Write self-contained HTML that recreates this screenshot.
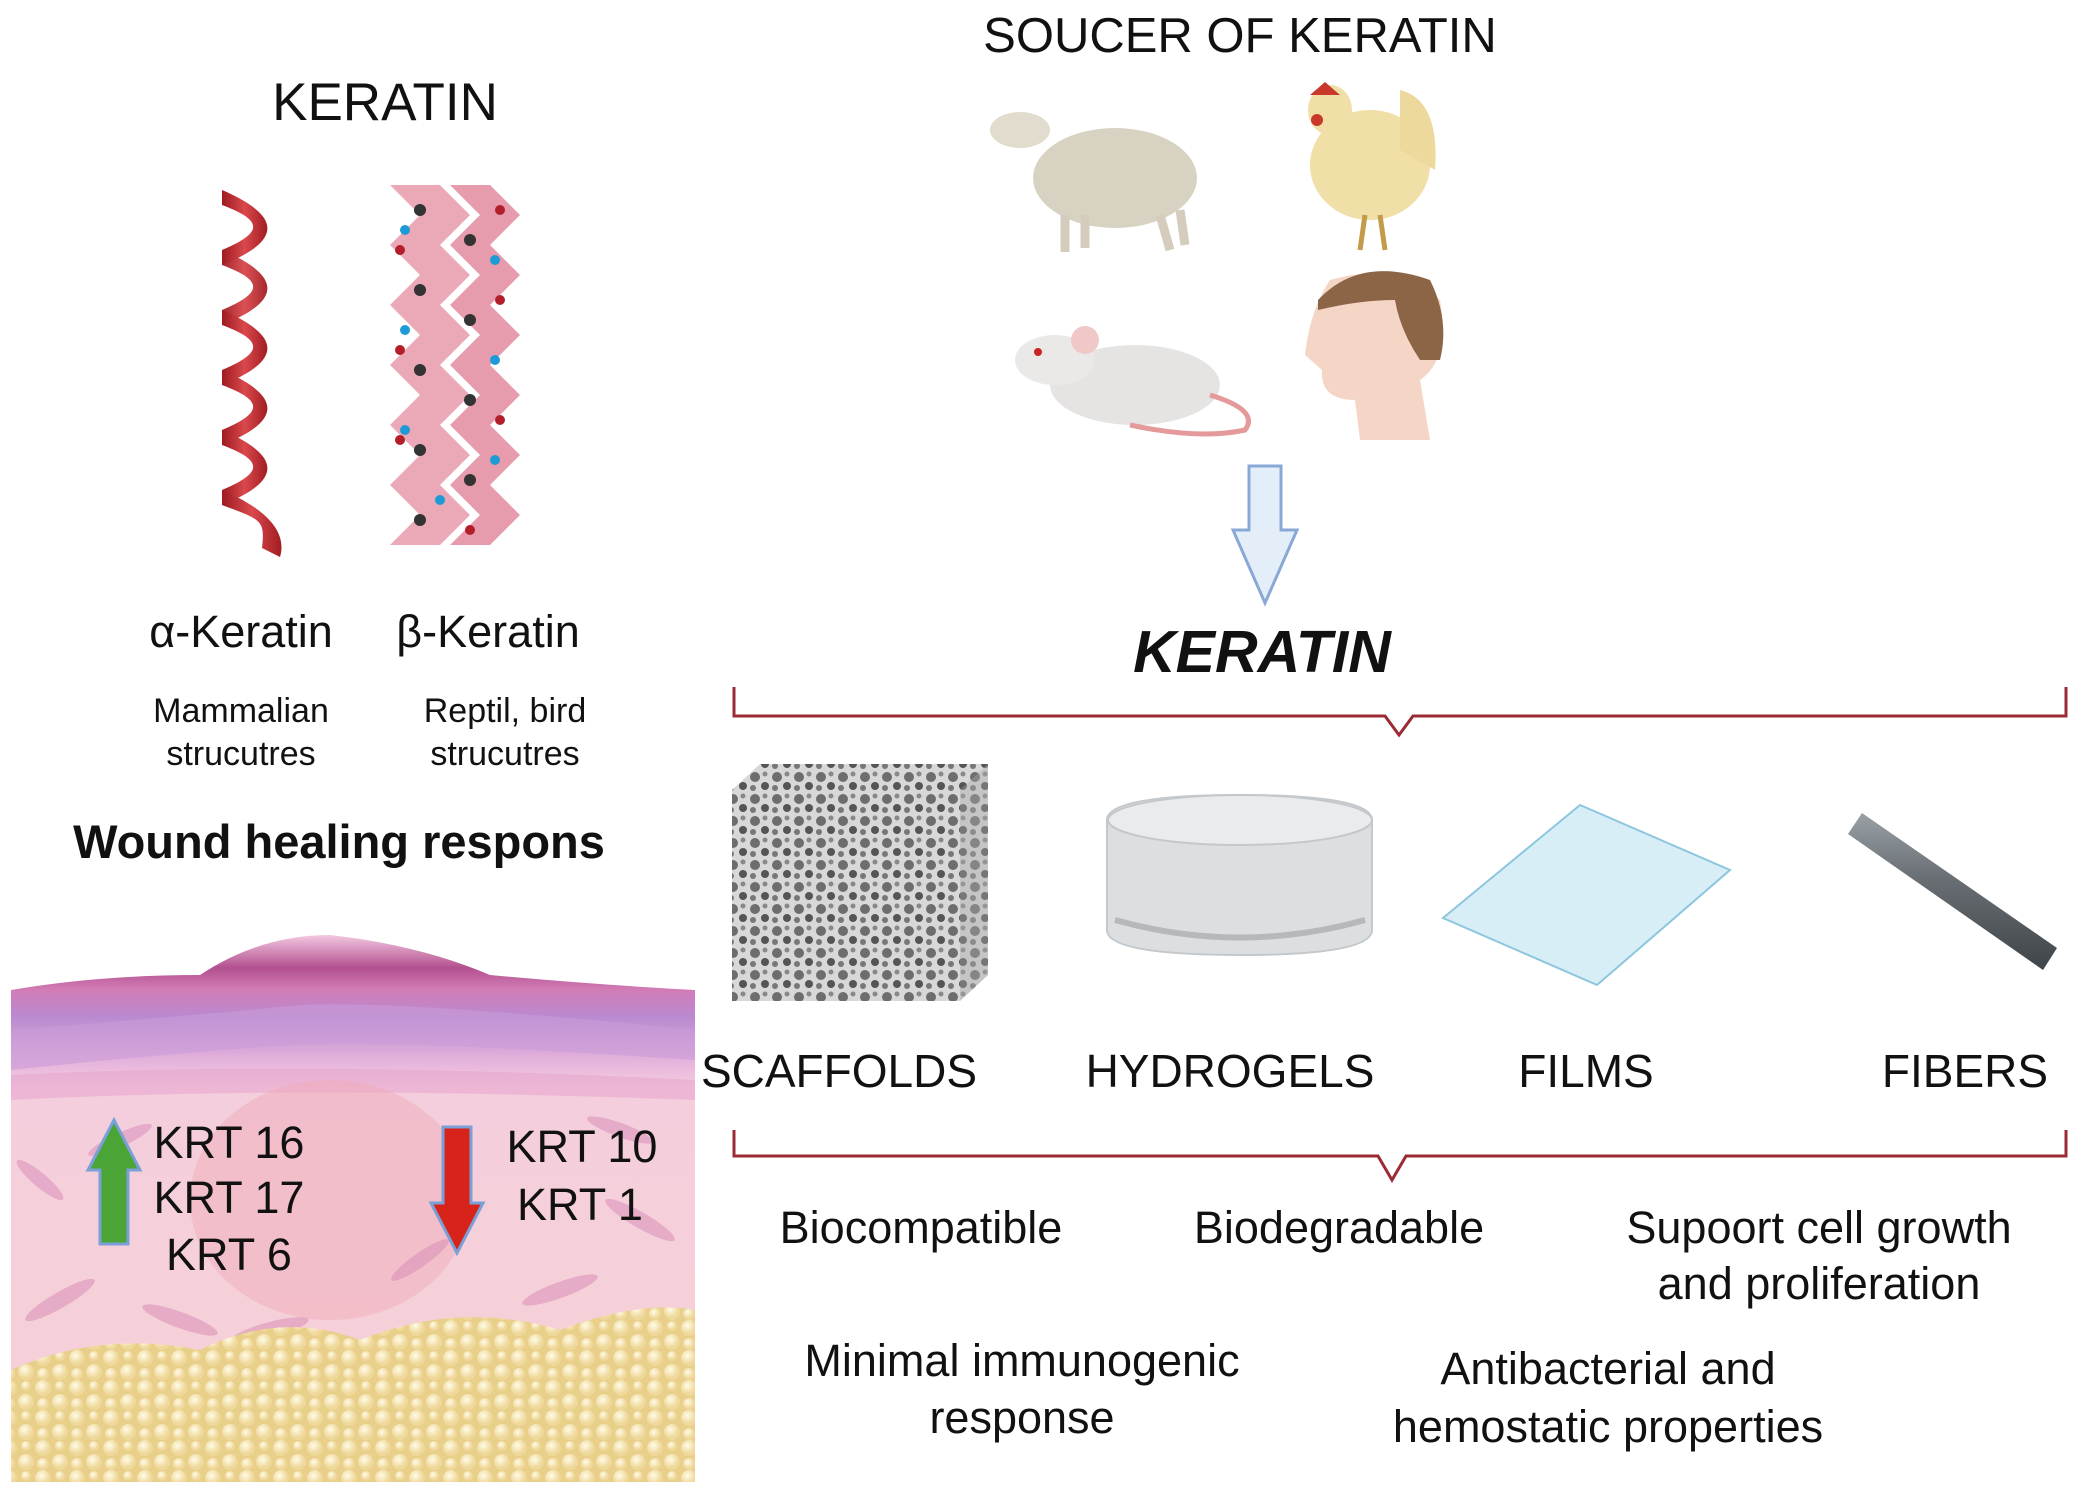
<!DOCTYPE html>
<html><head><meta charset="utf-8"><style>
html,body{margin:0;padding:0;background:#fff}
svg{display:block}
text{font-family:"Liberation Sans",sans-serif;fill:#111}
</style></head><body>
<svg width="2079" height="1487" viewBox="0 0 2079 1487" xmlns="http://www.w3.org/2000/svg">
<defs>
<linearGradient id="rib" x1="0" x2="1"><stop offset="0" stop-color="#9e1c22"/><stop offset=".5" stop-color="#d9484c"/><stop offset="1" stop-color="#a11d22"/></linearGradient>
<linearGradient id="skin" x1="0" y1="0" x2="0" y2="1">
<stop offset="0" stop-color="#f3c8e0"/><stop offset=".06" stop-color="#b3508f"/><stop offset=".1" stop-color="#d27cb6"/><stop offset=".15" stop-color="#b98ad0"/><stop offset=".24" stop-color="#e9b8dd"/><stop offset=".28" stop-color="#f4cedc"/><stop offset="1" stop-color="#f7d1d6"/></linearGradient>
<radialGradient id="cell" cx=".4" cy=".35"><stop offset="0" stop-color="#fffbe6"/><stop offset="1" stop-color="#efd89a"/></radialGradient>
<pattern id="fat" width="34" height="30" patternUnits="userSpaceOnUse"><rect width="34" height="30" fill="#e8cf8a"/><circle cx="9" cy="8" r="8" fill="url(#cell)"/><circle cx="26" cy="22" r="8" fill="url(#cell)"/><circle cx="26" cy="6" r="5" fill="url(#cell)"/><circle cx="9" cy="24" r="6" fill="url(#cell)"/></pattern>
<pattern id="pore" width="22" height="22" patternUnits="userSpaceOnUse"><rect width="22" height="22" fill="#d8d8d8"/><circle cx="7" cy="7" r="5" fill="#6d6d6d"/><circle cx="17" cy="16" r="4" fill="#555"/><circle cx="17" cy="4" r="2.5" fill="#888"/><circle cx="5" cy="18" r="3" fill="#777"/></pattern>
<linearGradient id="fib" x1="0" y1="0" x2="0" y2="1"><stop offset="0" stop-color="#9aa1a6"/><stop offset=".4" stop-color="#6a7075"/><stop offset="1" stop-color="#3f4448"/></linearGradient>
</defs>

<text x="385" y="120" font-size="53" text-anchor="middle">KERATIN</text>
<text x="1240" y="52" font-size="49" text-anchor="middle">SOUCER OF KERATIN</text>

<g fill="url(#rib)">
<path d="M222,190 C280,215 285,240 222,265 L222,250 C265,232 262,220 222,205Z"/>
<path d="M222,250 C280,275 285,300 222,325 L222,310 C265,292 262,280 222,265Z" opacity=".95"/>
<path d="M222,310 C280,335 285,360 222,385 L222,370 C265,352 262,340 222,325Z"/>
<path d="M222,370 C280,395 285,420 222,445 L222,430 C265,412 262,400 222,385Z"/>
<path d="M222,430 C280,455 285,480 222,505 L222,490 C265,472 262,460 222,445Z"/>
<path d="M222,490 C280,515 285,540 280,557 L262,548 C265,520 262,520 222,505Z"/>
</g>
<g>
<path d="M390,185 L420,215 L390,245 L420,275 L390,305 L420,335 L390,365 L420,395 L390,425 L420,455 L390,485 L420,515 L390,545 L440,545 L470,515 L440,485 L470,455 L440,425 L470,395 L440,365 L470,335 L440,305 L470,275 L440,245 L470,215 L440,185Z" fill="#e89aac" opacity=".85"/>
<path d="M450,185 L480,215 L450,245 L480,275 L450,305 L480,335 L450,365 L480,395 L450,425 L480,455 L450,485 L480,515 L450,545 L490,545 L520,515 L490,485 L520,455 L490,425 L520,395 L490,365 L520,335 L490,305 L520,275 L490,245 L520,215 L490,185Z" fill="#e38ba0" opacity=".85"/>
<g fill="#333"><circle cx="420" cy="210" r="6"/><circle cx="470" cy="240" r="6"/><circle cx="420" cy="290" r="6"/><circle cx="470" cy="320" r="6"/><circle cx="420" cy="370" r="6"/><circle cx="470" cy="400" r="6"/><circle cx="420" cy="450" r="6"/><circle cx="470" cy="480" r="6"/><circle cx="420" cy="520" r="6"/></g>
<g fill="#1e9bd6"><circle cx="405" cy="230" r="5"/><circle cx="495" cy="260" r="5"/><circle cx="405" cy="330" r="5"/><circle cx="495" cy="360" r="5"/><circle cx="405" cy="430" r="5"/><circle cx="495" cy="460" r="5"/><circle cx="440" cy="500" r="5"/></g>
<g fill="#b21f2b"><circle cx="400" cy="250" r="5"/><circle cx="500" cy="210" r="5"/><circle cx="400" cy="350" r="5"/><circle cx="500" cy="300" r="5"/><circle cx="400" cy="440" r="5"/><circle cx="500" cy="420" r="5"/><circle cx="470" cy="530" r="5"/></g>
</g>
<text x="241" y="647" font-size="45" text-anchor="middle">α-Keratin</text>
<text x="488" y="647" font-size="45" text-anchor="middle">β-Keratin</text>
<text x="241" y="722" font-size="34" text-anchor="middle">Mammalian</text>
<text x="241" y="765" font-size="34" text-anchor="middle">strucutres</text>
<text x="505" y="722" font-size="34" text-anchor="middle">Reptil, bird</text>
<text x="505" y="765" font-size="34" text-anchor="middle">strucutres</text>
<text x="339" y="858" font-size="47" font-weight="bold" text-anchor="middle">Wound healing respons</text>

<g>
<path d="M11,990 Q100,975 200,975 Q260,935 330,935 Q420,945 490,975 Q600,985 695,990 L695,1482 L11,1482Z" fill="url(#skin)"/>
<path d="M11,1030 Q200,1015 300,1005 Q400,1000 695,1030 L695,1060 Q400,1040 300,1045 Q200,1050 11,1070Z" fill="#c99bd8" opacity=".6"/>
<path d="M11,1075 Q300,1060 695,1080 L695,1100 Q300,1085 11,1100Z" fill="#e6a6cf" opacity=".6"/>
<ellipse cx="330" cy="1200" rx="140" ry="120" fill="#f0a9b6" opacity=".45"/>
<g fill="#d98fb8" opacity=".55">
<ellipse cx="60" cy="1300" rx="40" ry="8" transform="rotate(-30 60 1300)"/><ellipse cx="180" cy="1320" rx="40" ry="8" transform="rotate(20 180 1320)"/><ellipse cx="560" cy="1290" rx="40" ry="8" transform="rotate(-20 560 1290)"/><ellipse cx="640" cy="1220" rx="40" ry="8" transform="rotate(30 640 1220)"/><ellipse cx="40" cy="1180" rx="30" ry="7" transform="rotate(40 40 1180)"/><ellipse cx="500" cy="1330" rx="40" ry="8" transform="rotate(10 500 1330)"/><ellipse cx="270" cy="1330" rx="40" ry="8" transform="rotate(-15 270 1330)"/>
<ellipse cx="120" cy="1140" rx="35" ry="7" transform="rotate(-25 120 1140)"/><ellipse cx="620" cy="1130" rx="35" ry="7" transform="rotate(20 620 1130)"/><ellipse cx="420" cy="1260" rx="35" ry="7" transform="rotate(-35 420 1260)"/>
</g>
<path d="M11,1370 Q100,1330 200,1350 Q280,1310 360,1340 Q460,1300 560,1330 Q640,1300 695,1310 L695,1482 L11,1482Z" fill="url(#fat)"/>
</g>
<path d="M100,1244 L100,1170 L88,1170 L114,1120 L140,1170 L128,1170 L128,1244Z" fill="#4aa436" stroke="#7aa0d8" stroke-width="3"/>
<path d="M443,1127 L471,1127 L471,1203 L483,1203 L457,1253 L431,1203 L443,1203Z" fill="#d8231b" stroke="#7aa0d8" stroke-width="3"/>
<g font-size="45" text-anchor="middle">
<text x="229" y="1158">KRT 16</text><text x="229" y="1213">KRT 17</text><text x="229" y="1270">KRT 6</text>
<text x="582" y="1162">KRT 10</text><text x="580" y="1220">KRT 1</text>
</g>

<g>
<ellipse cx="1115" cy="178" rx="82" ry="50" fill="#d8d2c3"/>
<ellipse cx="1020" cy="130" rx="30" ry="18" fill="#e2dccf"/>
<g stroke="#d4cdbd" stroke-width="9"><line x1="1065" y1="215" x2="1065" y2="252"/><line x1="1085" y1="215" x2="1085" y2="248"/><line x1="1160" y1="215" x2="1170" y2="250"/><line x1="1180" y1="210" x2="1185" y2="245"/></g>
<ellipse cx="1370" cy="165" rx="60" ry="55" fill="#f0dfa6"/>
<ellipse cx="1330" cy="110" rx="22" ry="25" fill="#f0dfa6"/>
<path d="M1400,90 Q1440,100 1435,170 L1400,150Z" fill="#ecd99b"/>
<path d="M1310,95 L1325,82 L1340,95Z" fill="#c8382b"/>
<circle cx="1317" cy="120" r="6" fill="#c8382b"/>
<g stroke="#c49b4a" stroke-width="5"><line x1="1365" y1="215" x2="1360" y2="250"/><line x1="1380" y1="215" x2="1385" y2="250"/></g>
<ellipse cx="1135" cy="385" rx="85" ry="40" fill="#e6e3e3"/>
<ellipse cx="1055" cy="360" rx="40" ry="25" fill="#ebe8e8"/>
<circle cx="1085" cy="340" r="14" fill="#f0c8c8"/>
<circle cx="1038" cy="352" r="4" fill="#c22"/>
<path d="M1210,395 Q1260,410 1245,430 Q1200,440 1130,425" fill="none" stroke="#e49a9a" stroke-width="5"/>
<path d="M1330,280 Q1400,260 1440,300 Q1450,360 1420,380 L1430,440 L1360,440 L1355,400 Q1320,400 1322,370 L1305,355 Q1310,310 1330,280Z" fill="#f4d5c6"/>
<path d="M1318,300 Q1360,255 1430,280 Q1450,320 1440,360 L1420,360 Q1400,330 1395,300 Q1360,300 1318,310Z" fill="#8c6547"/>
</g>
<path d="M1249,466 L1281,466 L1281,530 L1297,530 L1265,603 L1233,530 L1249,530Z" fill="#e3eef8" stroke="#8aa8d6" stroke-width="3"/>
<text x="1262" y="672" font-size="59" font-weight="bold" font-style="italic" text-anchor="middle">KERATIN</text>

<path d="M734,687 L734,716 L1385,716 L1399,735 L1413,716 L2066,716 L2066,687" fill="none" stroke="#9b2a35" stroke-width="3"/>
<path d="M734,1130 L734,1156 L1378,1156 L1392,1180 L1406,1156 L2066,1156 L2066,1130" fill="none" stroke="#9b2a35" stroke-width="3"/>

<path d="M732,790 L760,764 L988,764 L988,975 L960,1001 L732,1001Z" fill="url(#pore)"/>
<path d="M960,790 L988,764 L988,975 L960,1001Z" fill="#aaa" opacity=".4"/>
<path d="M1107,820 Q1107,795 1240,795 Q1372,795 1372,820 L1372,930 Q1372,955 1240,955 Q1107,955 1107,930Z" fill="#dcdfe1" stroke="#c4c8cb" stroke-width="2"/>
<ellipse cx="1240" cy="820" rx="132" ry="25" fill="#e9ebec" stroke="#c4c8cb" stroke-width="2"/>
<path d="M1115,920 Q1240,955 1365,920" fill="none" stroke="#b5b9bc" stroke-width="6"/>
<path d="M1443,918 L1580,805 L1730,870 L1597,985Z" fill="#d8eef6" stroke="#8cc6de" stroke-width="2"/>
<path d="M1848,834 L1862,813 L2057,948 L2043,970Z" fill="url(#fib)"/>

<g font-size="46" text-anchor="middle">
<text x="839" y="1087">SCAFFOLDS</text><text x="1230" y="1087">HYDROGELS</text>
<text x="1586" y="1087">FILMS</text><text x="1965" y="1087">FIBERS</text>
</g>
<g font-size="45" text-anchor="middle">
<text x="921" y="1243">Biocompatible</text>
<text x="1339" y="1243">Biodegradable</text>
<text x="1819" y="1243">Supoort cell growth</text>
<text x="1819" y="1299">and proliferation</text>
<text x="1022" y="1376">Minimal immunogenic</text>
<text x="1022" y="1433">response</text>
<text x="1608" y="1384">Antibacterial and</text>
<text x="1608" y="1442">hemostatic properties</text>
</g>
</svg>
</body></html>
